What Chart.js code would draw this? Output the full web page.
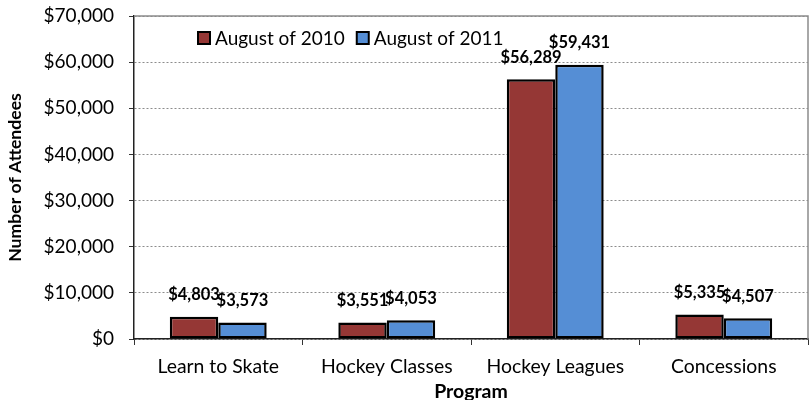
<!DOCTYPE html>
<html>
<head>
<meta charset="utf-8">
<script src="https://cdn.jsdelivr.net/npm/chart.js@4/dist/chart.umd.min.js"></script>
<style>
html,body{margin:0;padding:0;background:#fff;}
#wrap{width:810px;height:400px;position:relative;}
</style>
</head>
<body>
<div id="wrap"><canvas id="c" width="810" height="400"></canvas></div>
<script>
const categories = ["Learn to Skate", "Hockey Classes", "Hockey Leagues", "Concessions"];
const series2010 = [4803, 3551, 56289, 5335];
const series2011 = [3573, 4053, 59431, 4507];
const seriesNames = ["August of 2010", "August of 2011"];
const yTicks = [0, 10000, 20000, 30000, 40000, 50000, 60000, 70000];

const FONT = "Lato, 'Open Sans', sans-serif";
const money = v => "$" + Number(v).toLocaleString("en-US");

const labelPlugin = {
  id: "barLabels",
  afterDatasetsDraw(chart) {
    const ctx = chart.ctx;
    ctx.save();
    ctx.font = "bold 16.5px " + FONT;
    ctx.fillStyle = "#000";
    ctx.textAlign = "center";
    ctx.textBaseline = "middle";
    chart.data.datasets.forEach((ds, di) => {
      const meta = chart.getDatasetMeta(di);
      meta.data.forEach((bar, i) => {
        ctx.fillText(money(ds.data[i]), bar.x, bar.y - 22);
      });
    });
    ctx.restore();
  }
};

const framePlugin = {
  id: "frame",
  afterDraw(chart) {
    const a = chart.chartArea, ctx = chart.ctx;
    ctx.save();
    ctx.strokeStyle = "#8c8c8c";
    ctx.lineWidth = 1.5;
    ctx.beginPath();
    ctx.moveTo(a.left, a.top);
    ctx.lineTo(a.right, a.top);
    ctx.lineTo(a.right, a.bottom);
    ctx.stroke();
    ctx.restore();
  }
};

const legendPlugin = {
  id: "innerLegend",
  afterDraw(chart) {
    const a = chart.chartArea, ctx = chart.ctx;
    ctx.save();
    ctx.font = "19px " + FONT;
    ctx.textBaseline = "middle";
    ctx.textAlign = "left";
    let x = a.left + 64;
    const y = a.top + 22;
    chart.data.datasets.forEach(ds => {
      ctx.fillStyle = ds.backgroundColor;
      ctx.fillRect(x, y - 6, 12, 12);
      ctx.strokeStyle = "#000";
      ctx.lineWidth = 2;
      ctx.strokeRect(x, y - 6, 12, 12);
      ctx.fillStyle = "#000";
      ctx.fillText(ds.label, x + 17, y + 1);
      x += 17 + ctx.measureText(ds.label).width + 12;
    });
    ctx.restore();
  }
};

new Chart(document.getElementById("c"), {
  type: "bar",
  data: {
    labels: categories,
    datasets: [
      { label: seriesNames[0], data: series2010, backgroundColor: "#953735", borderColor: "#000", borderWidth: 2.5, borderSkipped: false },
      { label: seriesNames[1], data: series2011, backgroundColor: "#558ED5", borderColor: "#000", borderWidth: 2.5, borderSkipped: false }
    ]
  },
  options: {
    responsive: false,
    animation: false,
    layout: { padding: { top: 16, right: 2, left: 0, bottom: 0 } },
    datasets: { bar: { categoryPercentage: 0.575, barPercentage: 1.0 } },
    plugins: {
      legend: { display: false },
      tooltip: { enabled: false }
    },
    scales: {
      x: {
        offset: true,
        grid: { display: true, drawOnChartArea: false, drawTicks: true, tickLength: 6, offset: true, color: "#000", tickColor: "#333" },
        border: { display: true, color: "#222", width: 1.5 },
        ticks: { color: "#000", font: { family: FONT, size: 19.4 }, padding: 10, maxRotation: 0, autoSkip: false },
        title: { display: true, text: "Program", color: "#000", font: { family: FONT, size: 19.5, weight: "bold" }, padding: { top: 0, bottom: -3 } },
        afterFit(s) { s.height = 61; s.paddingLeft = 0; s.paddingRight = 0; }
      },
      y: {
        min: 0, max: 70000,
        afterBuildTicks(s) { s.ticks = yTicks.map(v => ({ value: v })); },
        grid: { color: "#8c8c8c", lineWidth: 1, tickColor: "#333", tickLength: 5, tickBorderDash: [], drawTicks: true },
        border: { display: true, color: "#222", width: 1.5, dash: [2, 2] },
        ticks: { color: "#000", font: { family: FONT, size: 19 }, padding: 15, callback: v => money(v) },
        title: { display: true, text: "Number of Attendees", color: "#000", font: { family: FONT, size: 17.6, weight: "bold" }, padding: { top: 5, bottom: 0 } },
        afterFit(s) { s.width = 134; s.paddingTop = 0; s.paddingBottom = 0; }
      }
    }
  },
  plugins: [labelPlugin, framePlugin, legendPlugin]
});
</script>
</body>
</html>
